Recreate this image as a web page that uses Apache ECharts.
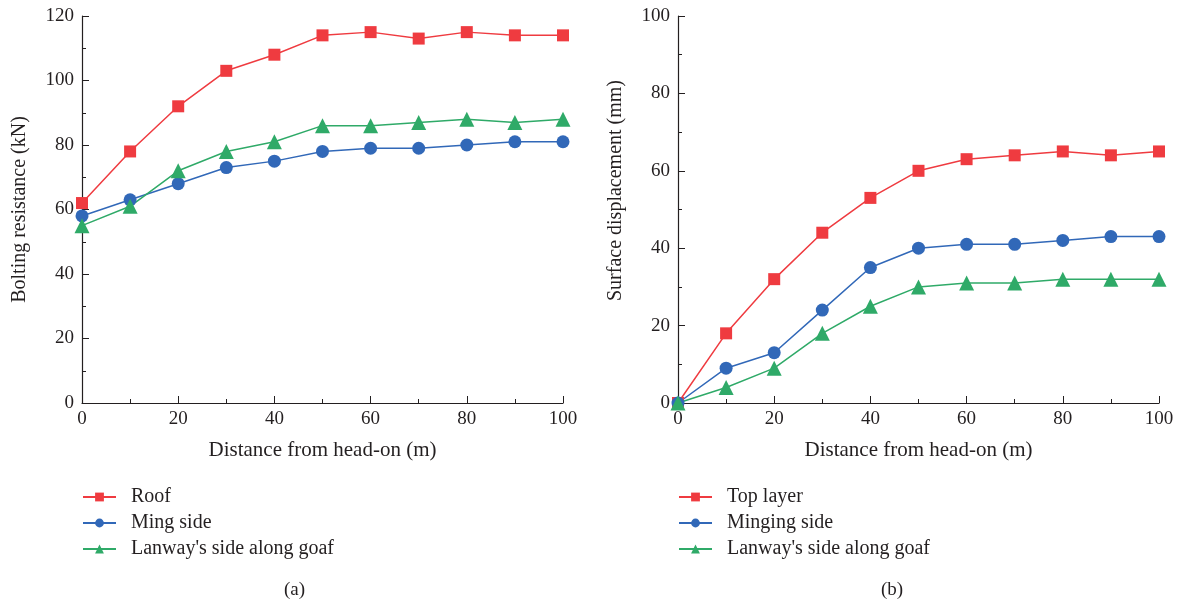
<!DOCTYPE html>
<html>
<head>
<meta charset="utf-8">
<script src="https://cdn.jsdelivr.net/npm/echarts@6/dist/echarts.min.js"></script>
<style>
  html, body { margin: 0; padding: 0; background: #fff; }
  #chart { width: 1179px; height: 608px; }
</style>
</head>
<body>
<div id="chart"></div>
<script>
// Distance from head-on (m)
const distance = [0, 10, 20, 30, 40, 50, 60, 70, 80, 90, 100];

// (a) Bolting resistance (kN)
const roof = [62, 78, 92, 103, 108, 114, 115, 113, 115, 114, 114];
const mingSide = [58, 63, 68, 73, 75, 78, 79, 79, 80, 81, 81];
const lanwayA = [55, 61, 72, 78, 81, 86, 86, 87, 88, 87, 88];

// (b) Surface displacement (mm)
const topLayer = [0, 18, 32, 44, 53, 60, 63, 64, 65, 64, 65];
const mingingSide = [0, 9, 13, 24, 35, 40, 41, 41, 42, 43, 43];
const lanwayB = [0, 4, 9, 18, 25, 30, 31, 31, 32, 32, 32];

const RED = '#EF3B40';
const BLUE = '#3168B8';
const GREEN = '#2FAA68';
const FONT = '"Liberation Serif", "DejaVu Serif", serif';
const INK = '#231F20';

const pairs = (ys) => distance.map((x, i) => [x, ys[i]]);

function xAxis(gridIndex) {
  return {
    type: 'value', gridIndex, min: 0, max: 100, interval: 20,
    name: 'Distance from head-on (m)', nameLocation: 'middle', nameGap: 37,
    nameTextStyle: { fontFamily: FONT, fontSize: 21, color: INK },
    axisLine: { show: true, lineStyle: { color: INK, width: 1.2 } },
    axisTick: { show: true, inside: true, length: 7, lineStyle: { color: INK } },
    minorTick: { show: true, splitNumber: 2, length: 4, lineStyle: { color: INK } },
    axisLabel: { fontFamily: FONT, fontSize: 19, color: INK, margin: 7 },
    splitLine: { show: false }
  };
}

function yAxis(gridIndex, max, name, shift) {
  return {
    type: 'value', gridIndex, min: 0, max, interval: 20,
    name, nameLocation: 'middle', nameGap: 52,
    nameTextStyle: { fontFamily: FONT, fontSize: 20, color: INK, padding: [0, 0, 0, shift] },
    axisLine: { show: true, lineStyle: { color: INK, width: 1.2 } },
    axisTick: { show: true, inside: true, length: 7, lineStyle: { color: INK } },
    minorTick: { show: true, splitNumber: 2, length: 4, lineStyle: { color: INK } },
    axisLabel: { fontFamily: FONT, fontSize: 19, color: INK, margin: 8 },
    splitLine: { show: false }
  };
}

function line(name, data, color, symbol, size, idx) {
  return {
    name, type: 'line', xAxisIndex: idx, yAxisIndex: idx,
    data: pairs(data), symbol, symbolSize: size,
    itemStyle: { color }, lineStyle: { color, width: 1.5 },
    emphasis: { disabled: true }, animation: false
  };
}

const legendText = { fontFamily: FONT, fontSize: 20, color: INK, padding: [0, 0, 0, 10] };

const chart = echarts.init(document.getElementById('chart'));
chart.setOption({
  backgroundColor: '#fff',
  animation: false,
  grid: [
    { left: 82, top: 16, width: 481, height: 387 },
    { left: 678, top: 16, width: 481, height: 387 }
  ],
  xAxis: [xAxis(0), xAxis(1)],
  yAxis: [
    yAxis(0, 120, 'Bolting resistance (kN)', 0),
    yAxis(1, 100, 'Surface displacement (mm)', 38)
  ],
  legend: [
    {
      orient: 'vertical', left: 82, top: 487, padding: 0, itemGap: 6, itemWidth: 33, itemHeight: 11,
      textStyle: legendText,
      data: ['Roof', 'Ming side', "Lanway's side along goaf"]
    },
    {
      orient: 'vertical', left: 678, top: 487, padding: 0, itemGap: 6, itemWidth: 33, itemHeight: 11,
      textStyle: legendText,
      data: ['Top layer', 'Minging side', "Lanway's side along goaf "]
    }
  ],
  title: [
    { text: '(a)', left: 279, top: 576, textStyle: { fontFamily: FONT, fontSize: 19, fontWeight: 'normal', color: INK } },
    { text: '(b)', left: 876, top: 576, textStyle: { fontFamily: FONT, fontSize: 19, fontWeight: 'normal', color: INK } }
  ],
  series: [
    line('Roof', roof, RED, 'rect', 12, 0),
    line('Ming side', mingSide, BLUE, 'circle', 13, 0),
    line("Lanway's side along goaf", lanwayA, GREEN, 'triangle', 15, 0),
    line('Top layer', topLayer, RED, 'rect', 12, 1),
    line('Minging side', mingingSide, BLUE, 'circle', 13, 1),
    line("Lanway's side along goaf ", lanwayB, GREEN, 'triangle', 15, 1)
  ]
});
</script>
</body>
</html>
